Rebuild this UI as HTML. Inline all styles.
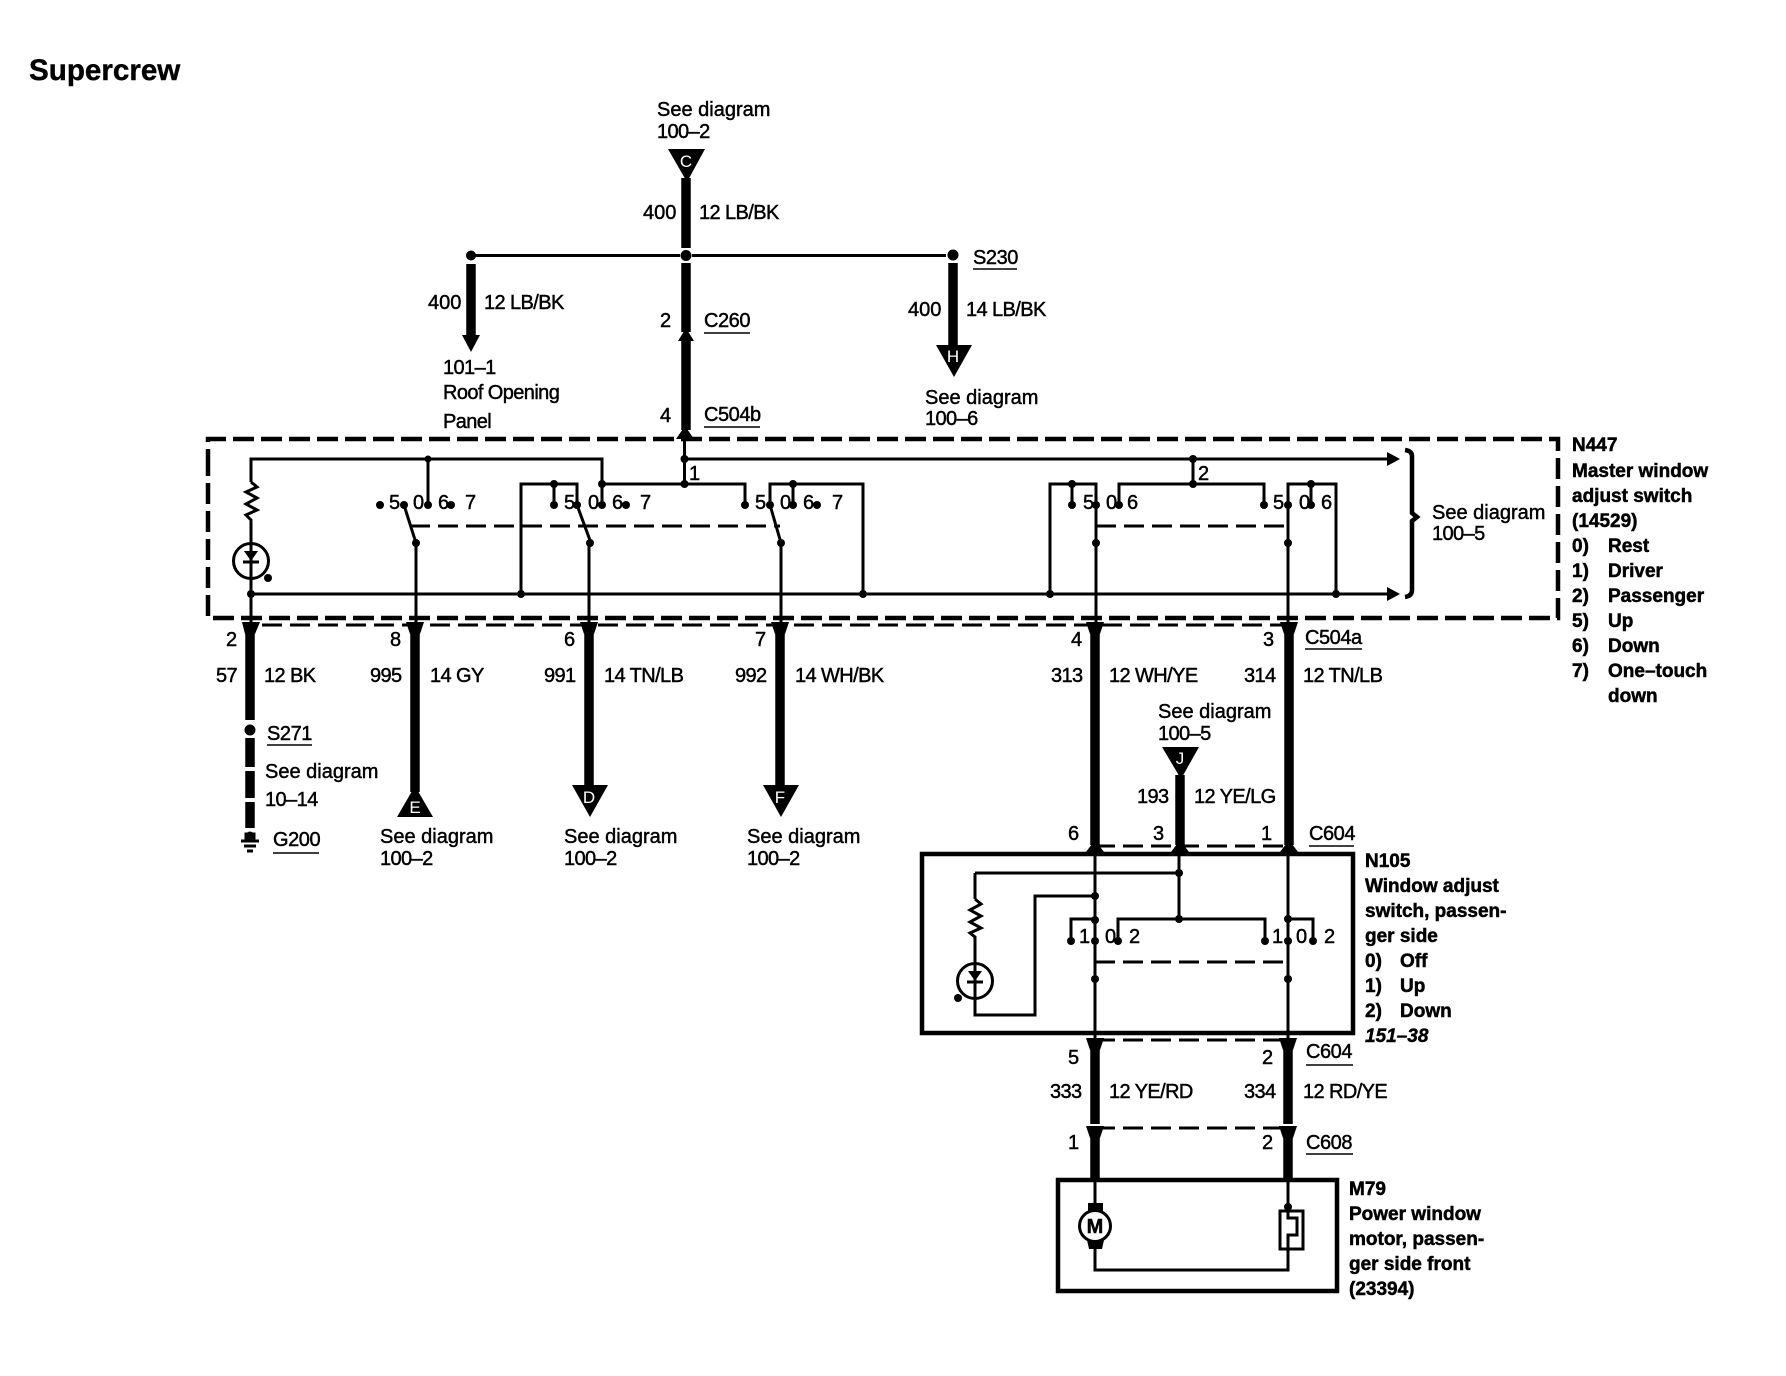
<!DOCTYPE html>
<html><head><meta charset="utf-8"><style>
html,body{margin:0;padding:0;background:#fff}
svg{display:block}
text{font-family:"Liberation Sans",sans-serif;font-size:20px;fill:#000;stroke:#000;stroke-width:.45px}
.n{letter-spacing:-.6px}
.c{letter-spacing:-.45px}
.b{font-weight:bold;font-size:19px;stroke-width:.5px}
.i{font-weight:bold;font-style:italic;font-size:19px}
.t{font-size:29.600px;font-weight:bold;stroke-width:.4px}
.w{fill:#fff;stroke:none;font-size:17px;text-anchor:middle}
.l{fill:none;stroke:#000;stroke-width:3}
.k{fill:none;stroke:#000;stroke-width:9.5}
.d{fill:none;stroke:#000;stroke-width:3;stroke-dasharray:20 8}
.u{fill:none;stroke:#000;stroke-width:1.6}
circle{fill:#000}
polygon{fill:#000}
</style></head><body>
<svg width="1786" height="1376" viewBox="0 0 1786 1376" xmlns="http://www.w3.org/2000/svg">
<rect width="1786" height="1376" fill="#fff"/>
<text class="t" x="29" y="80">Supercrew</text>

<!-- top -->
<text x="657" y="116">See diagram</text><text class="n" x="657" y="138">100–2</text>
<polygon points="668,149 705,149 687,182"/><text class="w" x="686" y="167">C</text>
<path class="k" d="M686 178V248M686 263V332M686 338V430"/>
<path class="l" d="M471 255.500H680M692 255.500H946M684.500 430V484"/>
<circle cx="471" cy="255.500" r="5"/><circle cx="686" cy="255.500" r="5.500"/><circle cx="953" cy="255" r="5.500"/>
<path class="k" d="M471 264V336"/><polygon points="462,335 480,335 471,352"/>
<path class="k" d="M953 263V347"/><polygon points="936,345 972,345 954,377"/><text class="w" x="953" y="362">H</text>
<polygon points="686,328 694,341 678,341"/><polygon points="685,426 694,439 676,439"/>
<text x="643" y="219">400</text><text class="n" x="699" y="219">12 LB/BK</text>
<text x="428" y="309">400</text><text class="n" x="484" y="309">12 LB/BK</text>
<text x="908" y="316">400</text><text class="n" x="966" y="316">14 LB/BK</text>
<text x="660" y="327">2</text><text class="c" x="704" y="327">C260</text><path class="u" d="M704 333H750"/>
<text x="660" y="422">4</text><text class="c" x="704" y="421">C504b</text><path class="u" d="M704 427H760"/>
<text class="c" x="973" y="264">S230</text><path class="u" d="M973 269H1017"/>
<text class="n" x="443" y="374">101–1</text><text class="n" x="443" y="399">Roof Opening</text><text class="n" x="443" y="428">Panel</text>
<text x="925" y="404">See diagram</text><text class="n" x="925" y="425">100–6</text>

<!-- N447 box -->
<path d="M208 470V439H1558V618H208V470" fill="none" stroke="#000" stroke-width="4.500" stroke-dasharray="21 7"/>
<path class="d" d="M262 625H1289"/>

<path class="l" d="M251 482V459H602V484M428 459V505M684.500 459H1387M602 484H745V505"/>
<polygon points="1387,452 1400,459 1387,466"/>
<polyline class="l" points="251,482 257,487 246,492 257,498 246,504 257,510 246,515 251,520 251,625"/>
<circle cx="251" cy="561" r="17.500" style="fill:none;stroke:#000;stroke-width:3"/>
<polygon points="244,551 258,551 251,561"/><path d="M243 562H259" stroke="#000" stroke-width="3"/>
<circle cx="268" cy="578" r="4"/>
<path class="l" d="M251 594H1387"/><polygon points="1387,587 1400,594 1387,601"/>
<circle cx="251" cy="594" r="4"/>
<circle cx="428" cy="459" r="3.500"/><circle cx="684.500" cy="459" r="4"/><circle cx="684.500" cy="484" r="4"/><circle cx="602" cy="484" r="4"/><circle cx="1193" cy="459" r="4"/>

<!-- switch 1 -->
<g>
<circle cx="380" cy="505" r="4"/><circle cx="404" cy="505" r="4"/><circle cx="428" cy="505" r="4"/><circle cx="451" cy="505" r="4"/><circle cx="416" cy="543" r="4"/>
<path class="l" d="M404 505L416 543V625"/>
<text x="389" y="509">5</text><text x="413" y="509">0</text><text x="438" y="509">6</text><text x="465" y="509">7</text>
</g>
<!-- switch 2 -->
<path class="l" d="M521 594V484H577V505L591 543H589V625M554 484V505"/>
<circle cx="554" cy="484" r="4"/><circle cx="554" cy="505" r="4"/><circle cx="577" cy="505" r="4"/><circle cx="602" cy="505" r="4"/><circle cx="626" cy="505" r="4"/><circle cx="590" cy="543" r="4"/><circle cx="521" cy="594" r="4"/>
<path class="l" d="M602 484V505"/>
<text x="564" y="509">5</text><text x="588" y="509">0</text><text x="612" y="509">6</text><text x="640" y="509">7</text>
<!-- switch 3 -->
<path class="l" d="M863 594V484H770V505L781 543V625M793 484V505"/>
<circle cx="745" cy="505" r="4"/><circle cx="793" cy="484" r="4"/><circle cx="793" cy="505" r="4"/><circle cx="770" cy="505" r="4"/><circle cx="817" cy="505" r="4"/><circle cx="781" cy="543" r="4"/><circle cx="863" cy="594" r="4"/>
<text x="755" y="509">5</text><text x="780" y="509">0</text><text x="803" y="509">6</text><text x="832" y="509">7</text>
<path class="d" d="M410 526H780" stroke-dasharray="20 10"/>

<!-- right switches -->
<path class="l" d="M1193 459V484M1119 505V484H1264V505"/>
<circle cx="1193" cy="484" r="4"/><circle cx="1119" cy="505" r="4"/><circle cx="1264" cy="505" r="4"/>
<path class="l" d="M1050 594V484H1096V625M1072 484V505"/>
<circle cx="1072" cy="484" r="4"/><circle cx="1072" cy="505" r="4"/><circle cx="1096" cy="505" r="4"/><circle cx="1096" cy="543" r="4"/><circle cx="1050" cy="594" r="4"/>
<path class="l" d="M1336 594V484H1288V625M1311 484V505"/>
<circle cx="1311" cy="484" r="4"/><circle cx="1311" cy="505" r="4"/><circle cx="1288" cy="505" r="4"/><circle cx="1288" cy="543" r="4"/><circle cx="1336" cy="594" r="4"/>
<path class="d" d="M1096 526H1288" stroke-dasharray="20 9"/>
<text x="1083" y="509">5</text><text x="1106" y="509">0</text><text x="1127" y="509">6</text><text x="1273" y="509">5</text><text x="1299" y="509">0</text><text x="1321" y="509">6</text>
<text x="1198" y="480">2</text><text x="689" y="480">1</text>
<path d="M1405 450Q1412 451 1412 456V513L1417 517L1412 521V590Q1412 596 1405 597" fill="none" stroke="#000" stroke-width="4.500"/>
<text x="1432" y="519">See diagram</text><text class="n" x="1432" y="540">100–5</text>

<!-- N447 text -->
<text class="b" x="1572" y="451">N447</text>
<text class="b" x="1572" y="477">Master window</text>
<text class="b" x="1572" y="502">adjust switch</text>
<text class="b" x="1572" y="527">(14529)</text>
<text class="b" x="1572" y="552">0)</text><text class="b" x="1608" y="552">Rest</text>
<text class="b" x="1572" y="577">1)</text><text class="b" x="1608" y="577">Driver</text>
<text class="b" x="1572" y="602">2)</text><text class="b" x="1608" y="602">Passenger</text>
<text class="b" x="1572" y="627">5)</text><text class="b" x="1608" y="627">Up</text>
<text class="b" x="1572" y="652">6)</text><text class="b" x="1608" y="652">Down</text>
<text class="b" x="1572" y="677">7)</text><text class="b" x="1608" y="677">One–touch</text>
<text class="b" x="1608" y="702">down</text>

<!-- thick harness wires -->
<path class="k" d="M250 628V720M415 628V792M589 628V788M780 628V788M1095 628V845M1289 628V845M1180 775V845"/>
<path class="k" d="M250 738V767M250 771V798M250 802V828"/>
<circle cx="250" cy="730" r="5.500"/>
<polygon points="242,622 260,622 255,634 245,634"/><polygon points="406,622 424,622 420,634 410,634"/><polygon points="580,622 598,622 594,634 584,634"/><polygon points="771,622 789,622 785,634 775,634"/><polygon points="1086,622 1104,622 1100,634 1090,634"/><polygon points="1280,622 1298,622 1294,634 1284,634"/>
<polygon points="415,786 433,817 397,817"/><text class="w" x="415" y="813">E</text>
<polygon points="572,785 608,785 590,817"/><text class="w" x="589" y="803">D</text>
<polygon points="763,785 799,785 781,817"/><text class="w" x="780" y="803">F</text>
<polygon points="1162,747 1199,747 1181,779"/><text class="w" x="1180" y="764">J</text>
<!-- ground -->
<circle cx="250" cy="836" r="4.500"/><path d="M246 834H254V840H246ZM241 841H259" stroke="#000" stroke-width="3"/><path d="M244 846H256M247 851H253" stroke="#000" stroke-width="3"/>

<text x="226" y="646">2</text><text x="390" y="646">8</text><text x="564" y="646">6</text><text x="755" y="646">7</text><text x="1071" y="646">4</text><text x="1263" y="646">3</text>
<text class="n" x="216" y="682">57</text><text class="n" x="264" y="682">12 BK</text>
<text class="n" x="370" y="682">995</text><text class="n" x="430" y="682">14 GY</text>
<text class="n" x="544" y="682">991</text><text class="n" x="604" y="682">14 TN/LB</text>
<text class="n" x="735" y="682">992</text><text class="n" x="795" y="682">14 WH/BK</text>
<text class="n" x="1051" y="682">313</text><text class="n" x="1109" y="682">12 WH/YE</text>
<text class="n" x="1244" y="682">314</text><text class="n" x="1303" y="682">12 TN/LB</text>
<text class="c" x="1305" y="644">C504a</text><path class="u" d="M1305 649H1362"/>
<text class="c" x="267" y="740">S271</text><path class="u" d="M267 745H312"/>
<text x="265" y="778">See diagram</text><text class="n" x="265" y="806">10–14</text>
<text class="c" x="273" y="846">G200</text><path class="u" d="M273 853H319"/>
<text x="380" y="843">See diagram</text><text class="n" x="380" y="865">100–2</text>
<text x="564" y="843">See diagram</text><text class="n" x="564" y="865">100–2</text>
<text x="747" y="843">See diagram</text><text class="n" x="747" y="865">100–2</text>
<text x="1158" y="718">See diagram</text><text class="n" x="1158" y="740">100–5</text>
<text class="n" x="1137" y="803">193</text><text class="n" x="1194" y="803">12 YE/LG</text>
<text x="1068" y="840">6</text><text x="1153" y="840">3</text><text x="1261" y="840">1</text>
<text class="c" x="1309" y="840">C604</text><path class="u" d="M1309 846H1354"/>

<!-- C604 top -->
<path class="d" d="M1095 846H1289" stroke-dasharray="20 8"/>
<polygon points="1095,840 1104,852 1086,852"/><polygon points="1180,840 1189,852 1171,852"/><polygon points="1289,840 1298,852 1280,852"/>

<!-- N105 -->
<rect x="922" y="854" width="431" height="179" fill="none" stroke="#000" stroke-width="4.500"/>
<path class="l" d="M1095 850V1040M1288 850V1040M1179 850V919M975 873H1179M975 873V899"/>
<polyline class="l" points="975,899 981,904 970,910 981,916 970,922 981,928 970,933 975,937 975,1015 1035,1015 1035,896 1095,896"/>
<circle cx="975" cy="981" r="17.500" style="fill:none;stroke:#000;stroke-width:3"/>
<polygon points="968,971 982,971 975,981"/><path d="M967 982H983" stroke="#000" stroke-width="3"/>
<circle cx="958" cy="998" r="4"/>
<circle cx="1179" cy="873" r="4"/><circle cx="1095" cy="896" r="4"/>
<path class="l" d="M1071 941V919H1095M1118 941V919H1265V941M1288 919H1313V941"/>
<circle cx="1095" cy="920" r="4"/><circle cx="1179" cy="919" r="4"/><circle cx="1288" cy="919" r="4"/>
<circle cx="1071" cy="941" r="4"/><circle cx="1095" cy="941" r="4"/><circle cx="1118" cy="941" r="4"/><circle cx="1265" cy="941" r="4"/><circle cx="1288" cy="941" r="4"/><circle cx="1313" cy="941" r="4"/>
<circle cx="1095" cy="979" r="4"/><circle cx="1288" cy="979" r="4"/>
<path class="d" d="M1095 962H1288" stroke-dasharray="20 8"/>
<text x="1079" y="943">1</text><text x="1105" y="943">0</text><text x="1129" y="943">2</text><text x="1272" y="943">1</text><text x="1296" y="943">0</text><text x="1324" y="943">2</text>
<text class="b" x="1365" y="867">N105</text>
<text class="b" x="1365" y="892">Window adjust</text>
<text class="b" x="1365" y="917">switch, passen-</text>
<text class="b" x="1365" y="942">ger side</text>
<text class="b" x="1365" y="967">0)</text><text class="b" x="1400" y="967">Off</text>
<text class="b" x="1365" y="992">1)</text><text class="b" x="1400" y="992">Up</text>
<text class="b" x="1365" y="1017">2)</text><text class="b" x="1400" y="1017">Down</text>
<text class="i" x="1365" y="1042">151–38</text>

<!-- lower harness -->
<path class="d" d="M1095 1040H1288" stroke-dasharray="20 8"/><path class="d" d="M1095 1128H1288" stroke-dasharray="20 8"/>
<path class="k" d="M1095 1042V1124M1288 1042V1124M1095 1132V1180M1288 1132V1180"/>
<polygon points="1086,1038 1104,1038 1100,1050 1090,1050"/><polygon points="1279,1038 1297,1038 1293,1050 1283,1050"/>
<polygon points="1086,1126 1104,1126 1100,1138 1090,1138"/><polygon points="1279,1126 1297,1126 1293,1138 1283,1138"/>
<text x="1068" y="1064">5</text><text x="1262" y="1064">2</text>
<text class="c" x="1306" y="1058">C604</text><path class="u" d="M1306 1065H1353"/>
<text class="n" x="1050" y="1098">333</text><text class="n" x="1109" y="1098">12 YE/RD</text>
<text class="n" x="1244" y="1098">334</text><text class="n" x="1303" y="1098">12 RD/YE</text>
<text x="1068" y="1149">1</text><text x="1262" y="1149">2</text>
<text class="c" x="1306" y="1149">C608</text><path class="u" d="M1306 1154H1353"/>

<!-- M79 -->
<rect x="1058" y="1180" width="279" height="111" fill="none" stroke="#000" stroke-width="4.500"/>
<path class="l" d="M1095 1180V1204M1095 1248V1270H1288V1180"/>
<rect x="1088" y="1203" width="15" height="9"/><polygon points="1087,1240 1104,1240 1102,1249 1089,1249"/>
<circle cx="1095" cy="1226" r="15.500" style="fill:#fff;stroke:#000;stroke-width:3"/>
<text x="1095" y="1233" text-anchor="middle" style="font-weight:bold;font-size:20px">M</text>
<rect x="1280" y="1211" width="23" height="38" fill="#fff" stroke="#000" stroke-width="3"/>
<path class="l" d="M1288 1205V1218H1297V1235H1288V1250"/>
<circle cx="1288" cy="1207" r="4"/>
<text class="b" x="1349" y="1195">M79</text>
<text class="b" x="1349" y="1220">Power window</text>
<text class="b" x="1349" y="1245">motor, passen-</text>
<text class="b" x="1349" y="1270">ger side front</text>
<text class="b" x="1349" y="1295">(23394)</text>
</svg>
</body></html>
